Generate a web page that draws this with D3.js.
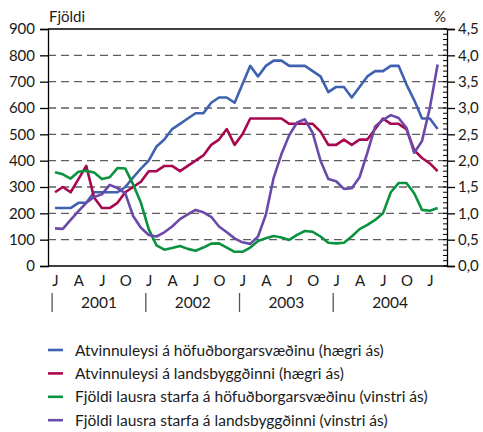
<!DOCTYPE html>
<html>
<head>
<meta charset="utf-8">
<script src="https://cdn.jsdelivr.net/npm/d3@7"></script>
<style>
  body { margin: 0; background: #fff; }
  text { font-family: Lato, "Open Sans", sans-serif; fill: #1a1a1a; }
</style>
</head>
<body>
<svg id="chart" width="483" height="432"></svg>
<script>
// monthly, Jan 2001 - Feb 2005
const quarterLabels = ['J', 'A', 'J', 'O', 'J', 'A', 'J', 'O', 'J', 'A', 'J', 'O', 'J', 'A', 'J', 'O', 'J']
const years = ['2001', '2002', '2003', '2004']
const leftTicks = [0, 100, 200, 300, 400, 500, 600, 700, 800, 900]
const rightTicks = [0, 0.5, 1, 1.5, 2, 2.5, 3, 3.5, 4, 4.5]

// % (right axis)
const unempCapital = [1.1, 1.1, 1.1, 1.2, 1.2, 1.4, 1.4, 1.4, 1.4, 1.5, 1.68, 1.85, 2.0, 2.27, 2.4, 2.6, 2.7, 2.8, 2.9, 2.9,
  3.1, 3.2, 3.2, 3.1, 3.45, 3.8, 3.6, 3.8, 3.9, 3.9, 3.8, 3.8, 3.8, 3.7, 3.6, 3.3, 3.4, 3.4, 3.2, 3.4,
  3.6, 3.7, 3.7, 3.8, 3.8, 3.45, 3.15, 2.8, 2.8, 2.6]
const unempRural = [1.4, 1.5, 1.4, 1.65, 1.9, 1.3, 1.1, 1.1, 1.2, 1.4, 1.5, 1.6, 1.8, 1.8, 1.9, 1.9, 1.8, 1.9, 2.0, 2.1,
  2.3, 2.4, 2.6, 2.3, 2.5, 2.8, 2.8, 2.8, 2.8, 2.8, 2.7, 2.7, 2.7, 2.7, 2.55, 2.3, 2.3, 2.4, 2.3, 2.4,
  2.4, 2.6, 2.8, 2.7, 2.7, 2.6, 2.2, 2.05, 1.95, 1.8]
// count (left axis)
const vacCapital = [356, 348, 332, 358, 362, 355, 330, 337, 372, 370, 310, 240, 140, 78, 62, 68, 76, 65, 58, 70,
  85, 86, 70, 54, 54, 70, 95, 105, 114, 108, 99, 118, 133, 130, 112, 88, 86, 88, 112, 140,
  156, 175, 200, 280, 315, 315, 276, 213, 210, 220]
const vacRural = [143, 141, 175, 208, 240, 262, 272, 308, 296, 276, 190, 145, 118, 112, 128, 150, 178, 196, 213, 204,
  187, 150, 128, 105, 90, 84, 112, 195, 335, 425, 497, 545, 557, 505, 400, 330, 322, 293, 295, 337,
  430, 530, 555, 573, 562, 525, 430, 475, 600, 765]

const seriesNames = [
  'Atvinnuleysi á höfuðborgarsvæðinu (hægri ás)',
  'Atvinnuleysi á landsbyggðinni (hægri ás)',
  'Fjöldi lausra starfa á höfuðborgarsvæðinu (vinstri ás)',
  'Fjöldi lausra starfa á landsbyggðinni (vinstri ás)'
]
const seriesColors = ['#3f62b0', '#a8084f', '#0a923f', '#6a4aa8']

const svg = d3.select('#chart')
const plotLeft = 48, plotRight = 447, plotTop = 29, plotBottom = 266

const x = d3.scaleLinear().domain([-0.9, 50.2]).range([plotLeft, plotRight])
const yL = d3.scaleLinear().domain([0, 900]).range([plotBottom, plotTop])
const yR = d3.scaleLinear().domain([0, 4.5]).range([plotBottom, plotTop])

// dashed grid
svg.append('g')
  .selectAll('line')
  .data(leftTicks.filter((d) => d > 0 && d < 900))
  .join('line')
  .attr('x1', plotLeft).attr('x2', plotRight)
  .attr('y1', (d) => yL(d)).attr('y2', (d) => yL(d))
  .attr('stroke', '#5e5e5e')
  .attr('stroke-width', 1.3)
  .attr('stroke-dasharray', '8,5')

// frame top line
svg.append('line')
  .attr('x1', plotLeft).attr('x2', plotRight)
  .attr('y1', plotTop).attr('y2', plotTop)
  .attr('stroke', '#000').attr('stroke-width', 1.3)

// left axis
const gL = svg.append('g')
  .attr('transform', `translate(${plotLeft},0)`)
  .call(d3.axisLeft(yL).tickValues(leftTicks).tickSize(8).tickPadding(5))
gL.selectAll('text').attr('font-size', 15).attr('fill', '#1a1a1a')

// right axis
const gR = svg.append('g')
  .attr('transform', `translate(${plotRight},0)`)
  .call(d3.axisRight(yR).tickValues(rightTicks).tickSize(8).tickPadding(3)
    .tickFormat((d) => d3.format('.1f')(d).replace('.', ',')))
gR.selectAll('text').attr('font-size', 15).attr('fill', '#1a1a1a')

// right minor ticks (inward)
svg.append('g')
  .selectAll('line')
  .data(d3.range(0, 46).map((d) => d / 10))
  .join('line')
  .attr('x1', plotRight - 4).attr('x2', plotRight)
  .attr('y1', (d) => yR(d)).attr('y2', (d) => yR(d))
  .attr('stroke', '#000').attr('stroke-width', 1)

;[gL, gR].forEach((g) => {
  g.select('.domain').attr('stroke', '#000').attr('stroke-width', 1.3)
  g.selectAll('.tick line').attr('stroke', '#000').attr('stroke-width', 1.3)
})

// bottom axis
const gB = svg.append('g')
  .attr('transform', `translate(0,${plotBottom})`)
  .call(d3.axisBottom(x).tickValues(d3.range(0, 49, 3)).tickSize(0).tickPadding(9)
    .tickFormat((d, i) => quarterLabels[i]))
gB.select('.domain').attr('d', `M${plotLeft},0H${plotRight}`).attr('stroke', '#000').attr('stroke-width', 1.3)
gB.selectAll('text').attr('font-size', 15).attr('fill', '#1a1a1a')

// year separators and labels
const sepPos = [-0.5, 11.5, 23.5, 35.5]
svg.append('g')
  .selectAll('line')
  .data(sepPos)
  .join('line')
  .attr('x1', (d) => x(d) + 1).attr('x2', (d) => x(d) + 1)
  .attr('y1', 293).attr('y2', 312)
  .attr('stroke', '#555').attr('stroke-width', 1.3)

svg.append('g')
  .selectAll('text')
  .data(years)
  .join('text')
  .attr('x', (d, i) => {
    const a = x(sepPos[i]) + 1
    const b = i < 3 ? x(sepPos[i + 1]) + 1 : plotRight
    return (a + b) / 2
  })
  .attr('y', 308)
  .attr('text-anchor', 'middle')
  .attr('font-size', 15.5)
  .text((d) => d)

// series
const series = [
  { values: unempCapital, y: yR },
  { values: unempRural, y: yR },
  { values: vacCapital, y: yL },
  { values: vacRural, y: yL }
]
series.forEach((s, k) => {
  const line = d3.line().x((d, i) => x(i)).y((d) => s.y(d))
  svg.append('path')
    .datum(s.values)
    .attr('d', line)
    .attr('fill', 'none')
    .attr('stroke', seriesColors[k])
    .attr('stroke-width', 2.6)
    .attr('stroke-linejoin', 'round')
})

// axis titles
svg.append('text').attr('x', 49).attr('y', 22).attr('font-size', 15).text('Fjöldi')
svg.append('text').attr('x', 440).attr('y', 22).attr('font-size', 15).attr('text-anchor', 'middle').text('%')

// legend
const legend = svg.append('g')
  .selectAll('g')
  .data(seriesNames)
  .join('g')
  .attr('transform', (d, i) => `translate(0,${350 + i * 23.4})`)
legend.append('line')
  .attr('x1', 48).attr('x2', 63)
  .attr('stroke', (d, i) => seriesColors[i])
  .attr('stroke-width', 2.6)
legend.append('text')
  .attr('x', 75).attr('y', 5.5)
  .attr('font-size', 15.5)
  .text((d) => d)
</script>
</body>
</html>
